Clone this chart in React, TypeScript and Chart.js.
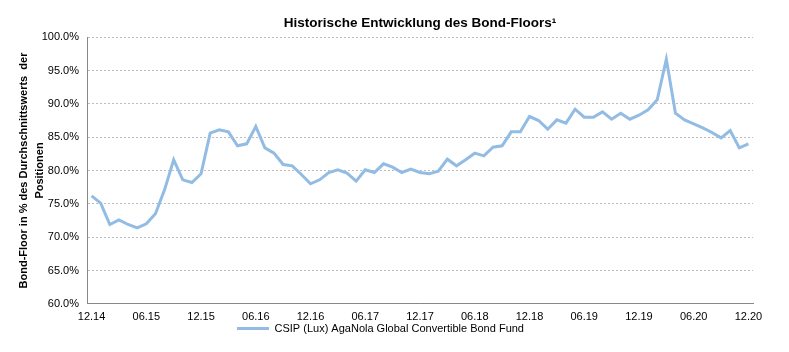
import React, { useEffect, useRef } from "react";
import { Chart, registerables } from "chart.js";
Chart.register(...registerables);

const months: string[] = [
  "12.14","01.15","02.15","03.15","04.15","05.15","06.15","07.15","08.15","09.15","10.15","11.15",
  "12.15","01.16","02.16","03.16","04.16","05.16","06.16","07.16","08.16","09.16","10.16","11.16",
  "12.16","01.17","02.17","03.17","04.17","05.17","06.17","07.17","08.17","09.17","10.17","11.17",
  "12.17","01.18","02.18","03.18","04.18","05.18","06.18","07.18","08.18","09.18","10.18","11.18",
  "12.18","01.19","02.19","03.19","04.19","05.19","06.19","07.19","08.19","09.19","10.19","11.19",
  "12.19","01.20","02.20","03.20","04.20","05.20","06.20","07.20","08.20","09.20","10.20","11.20",
  "12.20",
];

const bondFloor: number[] = [
  76.2, 75.1, 71.9, 72.6, 71.9, 71.4, 72.0, 73.5, 77.1, 81.6, 78.6, 78.2,
  79.5, 85.6, 86.1, 85.8, 83.7, 84.0, 86.6, 83.4, 82.6, 80.9, 80.7, 79.4,
  78.0, 78.6, 79.7, 80.1, 79.6, 78.4, 80.1, 79.7, 81.0, 80.5, 79.7, 80.2,
  79.7, 79.5, 79.9, 81.7, 80.7, 81.6, 82.6, 82.2, 83.5, 83.7, 85.8, 85.8,
  88.1, 87.5, 86.2, 87.6, 87.1, 89.2, 88.0, 88.0, 88.8, 87.7, 88.6, 87.7,
  88.3, 89.1, 90.6, 96.7, 88.6, 87.6, 87.0, 86.4, 85.7, 84.9, 86.0, 83.4,
  84.0,
];

const seriesName = "CSIP (Lux) AgaNola Global Convertible Bond Fund";
const chartTitle = "Historische Entwicklung des Bond-Floors\u00B9";
const yAxisTitle: string[] = ["Bond-Floor in % des Durchschnittswerts  der", "Positionen"];

const FONT = "'Liberation Sans', Arial, sans-serif";
const LINE = "#92BCE3";

export default function App() {
  const ref = useRef<HTMLCanvasElement | null>(null);
  useEffect(() => {
    if (!ref.current) return;
    const chart = new Chart(ref.current, {
      type: "line",
      data: {
        labels: months,
        datasets: [
          {
            label: seriesName,
            data: bondFloor,
            borderColor: LINE,
            backgroundColor: LINE,
            borderWidth: 3,
            pointRadius: 0,
            tension: 0,
          },
        ],
      },
      options: {
        animation: false,
        responsive: true,
        maintainAspectRatio: false,
        layout: { padding: { left: 0, right: 28, top: 0, bottom: 0 } },
        plugins: {
          title: {
            display: true,
            text: chartTitle,
            color: "#000",
            fullSize: false,
            font: { family: FONT, size: 13.5, weight: "bold" },
            padding: { top: 7, bottom: 6 },
          },
          legend: {
            position: "bottom",
            labels: {
              color: "#000",
              font: { family: FONT, size: 11 },
              boxWidth: 32,
              boxHeight: 3,
              padding: 2,
              generateLabels: (c: any) => {
                const items = Chart.defaults.plugins.legend.labels.generateLabels(c);
                items.forEach((it: any) => { it.lineWidth = 0; });
                return items;
              },
            },
          },
          tooltip: { enabled: false },
        },
        scales: {
          x: {
            offset: true,
            afterFit: (s: any) => { s.height = s.height - 10; },
            grid: { display: false, drawTicks: false },
            border: { color: "#888888", width: 1 },
            ticks: {
              autoSkip: false,
              maxRotation: 0,
              minRotation: 0,
              padding: 7,
              color: "#000",
              font: { family: FONT, size: 11 },
              callback: (_v: any, i: number) => (i % 6 === 0 ? months[i] : ""),
            },
          },
          y: {
            min: 60,
            max: 100,
            afterFit: (s: any) => { s.width = 79; },
            ticks: {
              stepSize: 5,
              padding: 8,
              color: "#000",
              font: { family: FONT, size: 11 },
              callback: (v: any) => Number(v).toFixed(1) + "%",
            },
            grid: { color: "#bdbdbd", drawTicks: false },
            border: { color: "#888888", width: 1, dash: [2, 2] },
            title: {
              display: true,
              text: yAxisTitle,
              color: "#000",
              font: { family: FONT, size: 11, weight: "bold", lineHeight: 1.45 },
              padding: { top: 8, bottom: 2 },
            },
          },
        },
      },
    } as any);
    return () => chart.destroy();
  }, []);
  return (
    <div style={{ width: 773, height: 336, position: "relative" }}>
      <canvas ref={ref} />
    </div>
  );
}
